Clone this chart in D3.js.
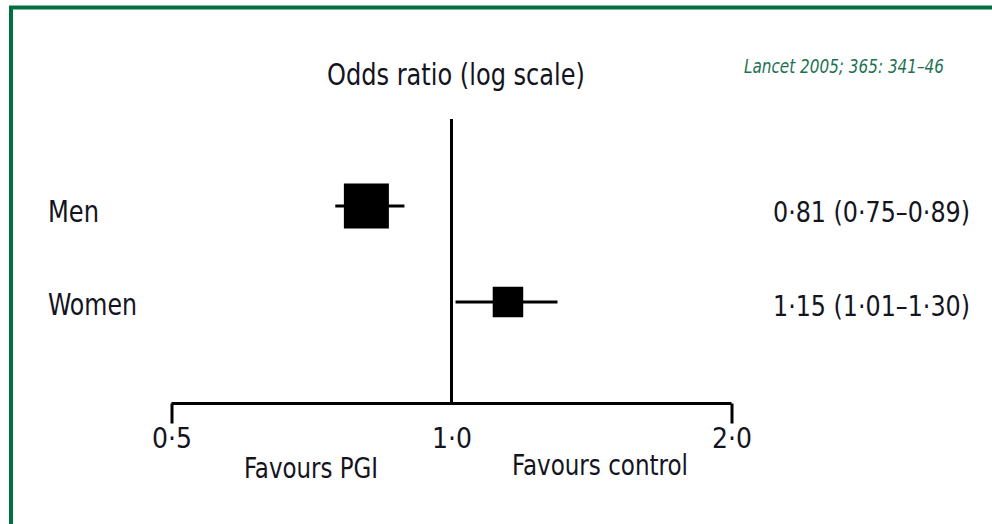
<!DOCTYPE html>
<html>
<head>
<meta charset="utf-8">
<script src="https://cdn.jsdelivr.net/npm/d3@7"></script>
<style>
  body { margin: 0; background: #fff; }
  svg { display: block; }
  text { font-family: "DejaVu Sans Condensed", "Liberation Sans Narrow", sans-serif; fill: #14141e; }
</style>
</head>
<body>
<svg width="992" height="524"></svg>
<script>
// subgroups and their odds ratios with 95% CI
var groups = ["Men", "Women"];
var oddsRatio = [0.81, 1.15];
var ciLow = [0.75, 1.01];
var ciHigh = [0.89, 1.30];
var tickValues = [0.5, 1.0, 2.0];

var svg = d3.select("svg"),
    width = +svg.attr("width"),
    height = +svg.attr("height");

var fmt = function (v, p) { return d3.format("." + p + "f")(v).replace(".", "\u00b7"); };

// squeeze a label into the width it takes in the print
function fit(sel, w) {
    sel.attr("textLength", w).attr("lengthAdjust", "spacingAndGlyphs");
}

var rows = groups.map(function (g, i) {
    // inverse-variance weight from the CI width (on log scale)
    var se = Math.log(ciHigh[i] / ciLow[i]) / (2 * 1.96);
    return { name: g, or: oddsRatio[i], lo: ciLow[i], hi: ciHigh[i], w: 1 / (se * se) };
});

// green frame (cropped at right and bottom)
svg.append("path")
    .attr("d", "M11,2000 V7.5 H2000")
    .attr("fill", "none")
    .attr("stroke", "#007042")
    .attr("stroke-width", 4);

var x = d3.scaleLog().domain([0.5, 2]).range([171.5, 731.5]);
var y = d3.scalePoint().domain(groups).range([206, 302]);
var size = d3.scaleSqrt().domain([0, d3.max(rows, d => d.w)]).range([0, 45]);

// axis
var axis = svg.append("g")
    .attr("transform", "translate(0,403.5)")
    .call(d3.axisBottom(x).tickValues(tickValues).tickSize(20)
        .tickFormat(d => fmt(d, 1)));
axis.select(".domain")
    .attr("d", "M" + x(0.5) + ",0H" + x(2))
    .attr("stroke", "#000").attr("stroke-width", 3);
axis.selectAll(".tick line").attr("stroke", "#000").attr("stroke-width", 3);
axis.selectAll(".tick").filter(d => d === 1).select("line").attr("y2", 0);
axis.selectAll(".tick text")
    .attr("fill", null)
    .attr("font-family", null)
    .style("font-size", "28px")
    .attr("y", 44.5).attr("dy", null)
    .call(fit, 40);

// line of no effect
svg.append("line")
    .attr("x1", x(1)).attr("x2", x(1))
    .attr("y1", 119).attr("y2", 403.5)
    .attr("stroke", "#000").attr("stroke-width", 3);

// CI whiskers and squares
var row = svg.append("g").selectAll("g")
    .data(rows)
    .enter().append("g");

row.append("line")
    .attr("x1", d => x(d.lo)).attr("x2", d => x(d.hi))
    .attr("y1", d => y(d.name)).attr("y2", d => y(d.name))
    .attr("stroke", "#000").attr("stroke-width", 3);

row.append("rect")
    .attr("x", d => x(d.or) - size(d.w) / 2)
    .attr("y", d => y(d.name) - size(d.w) / 2)
    .attr("width", d => size(d.w))
    .attr("height", d => size(d.w))
    .attr("fill", "#000");

row.append("text")
    .attr("x", 48)
    .attr("y", (d, i) => y(d.name) + (i ? 13 : 16))
    .style("font-size", "30px")
    .text(d => d.name)
    .each(function (d, i) { d3.select(this).call(fit, i ? 89 : 51); });

row.append("text")
    .attr("x", 773)
    .attr("y", (d, i) => y(d.name) + (i ? 14 : 16))
    .style("font-size", "28px")
    .text(d => fmt(d.or, 2) + " (" + fmt(d.lo, 2) + "\u2013" + fmt(d.hi, 2) + ")")
    .call(fit, 197);

// titles
svg.append("text")
    .attr("x", 327).attr("y", 85)
    .style("font-size", "30px")
    .text("Odds ratio (log scale)")
    .call(fit, 258);

svg.append("text")
    .attr("x", 744).attr("y", 73)
    .style("font-size", "20px")
    .style("font-style", "italic")
    .style("fill", "#1d7152")
    .text("Lancet 2005; 365: 341\u201346")
    .call(fit, 200);

svg.append("text")
    .attr("x", 244).attr("y", 478)
    .style("font-size", "29px")
    .text("Favours PGI")
    .call(fit, 134);

svg.append("text")
    .attr("x", 512).attr("y", 475)
    .style("font-size", "29px")
    .text("Favours control")
    .call(fit, 176);
</script>
</body>
</html>
